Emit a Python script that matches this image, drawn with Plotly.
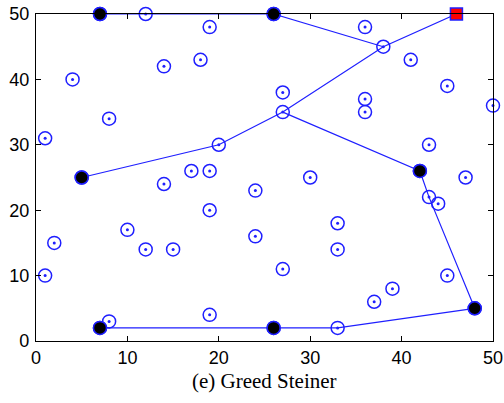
import plotly.graph_objects as go

# All nodes of the instance (x, y)
node_x = [7, 12, 26, 19, 36, 38, 14, 18, 41, 4, 45, 27, 36, 36, 27, 50, 1, 8, 20, 43,
          5, 17, 19, 14, 30, 24, 42, 47, 43, 44, 19, 33, 10, 2, 12, 15, 24, 33, 27, 1,
          45, 39, 37, 48, 8, 7, 19, 26, 33]
node_y = [50, 50, 50, 48, 48, 45, 42, 43, 43, 40, 39, 38, 37, 35, 35, 36, 31, 34, 30, 30,
          25, 26, 26, 24, 25, 23, 26, 25, 22, 21, 20, 18, 17, 15, 14, 14, 16, 14, 11, 10,
          10, 8, 6, 5, 3, 2, 4, 2, 2]

# Terminal nodes
term_x = [7, 26, 5, 42, 48, 7, 26]
term_y = [50, 50, 25, 26, 5, 2, 2]

# Source node
src_x = [46]
src_y = [50]

# Tree edges as polylines
edges = [
    ([7, 26], [50, 50]),
    ([26, 38], [50, 45]),
    ([46, 38, 27, 20, 5], [50, 45, 35, 30, 25]),
    ([27, 42, 43, 48], [35, 26, 22, 5]),
    ([48, 33, 26, 7], [5, 2, 2, 2]),
]

LINE_BLUE = "#1f1fff"

fig = go.Figure()

for ex, ey in edges:
    fig.add_trace(go.Scatter(x=ex, y=ey, mode="lines",
                             line=dict(color=LINE_BLUE, width=1.2),
                             hoverinfo="skip", showlegend=False, cliponaxis=False))

fig.add_trace(go.Scatter(x=node_x, y=node_y, mode="markers", cliponaxis=False,
                         marker=dict(symbol="circle-open", size=13,
                                     color=LINE_BLUE, line=dict(width=1.5)),
                         showlegend=False))
fig.add_trace(go.Scatter(x=node_x, y=node_y, mode="markers", cliponaxis=False,
                         marker=dict(symbol="circle", size=3, color=LINE_BLUE),
                         showlegend=False))

fig.add_trace(go.Scatter(x=term_x, y=term_y, mode="markers", cliponaxis=False,
                         marker=dict(symbol="circle", size=13, color="black",
                                     line=dict(color=LINE_BLUE, width=1.5)),
                         showlegend=False))

fig.add_trace(go.Scatter(x=src_x, y=src_y, mode="markers", cliponaxis=False,
                         marker=dict(symbol="square", size=12, color="red",
                                     line=dict(color=LINE_BLUE, width=1.5)),
                         showlegend=False))

axis_common = dict(
    showgrid=False, zeroline=False, showline=True, mirror="ticks",
    linecolor="black", linewidth=1.2, ticks="inside", ticklen=5,
    tickcolor="black", tickwidth=1, dtick=10, automargin=False,
    tickfont=dict(family="Liberation Sans, Arial, sans-serif", size=18, color="black"),
)

fig.update_layout(
    width=504, height=403,
    margin=dict(l=36, r=11, t=14, b=62),
    paper_bgcolor="white", plot_bgcolor="white",
    xaxis=dict(range=[0, 50], tick0=0, **axis_common),
    yaxis=dict(range=[0, 50], tick0=0, ticklabelstandoff=2, **axis_common),
    annotations=[dict(
        text="(e) Greed Steiner", x=0.5, y=0, xref="paper", yref="paper",
        yshift=-40, showarrow=False, yanchor="middle",
        font=dict(family="Liberation Serif, Times New Roman, serif", size=21, color="black"),
    )],
)

fig.write_html("out.html")
